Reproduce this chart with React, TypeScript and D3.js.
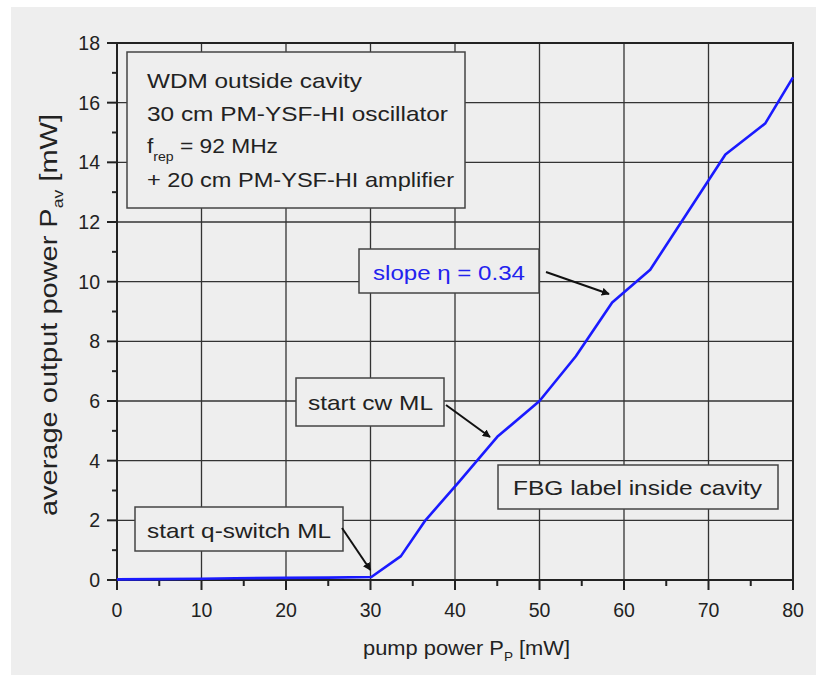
import React from "react";
import * as d3 from "d3";

const pumpPower = [0, 5, 10, 14, 20, 25, 30.1, 33.6, 36.5, 40.5, 45, 50, 54.3, 58.6, 63.1, 72, 76.7, 80];
const outputPower = [0.02, 0.03, 0.04, 0.06, 0.07, 0.08, 0.1, 0.8, 2.0, 3.3, 4.8, 6.0, 7.5, 9.3, 10.4, 14.26, 15.3, 16.85];
const xTicks = [0, 10, 20, 30, 40, 50, 60, 70, 80];
const xMinor = [5, 15, 25, 35, 45, 55, 65, 75];
const yTicks = [0, 2, 4, 6, 8, 10, 12, 14, 16, 18];
const yMinor = [1, 3, 5, 7, 9, 11, 13, 15, 17];
const infoLines = ["WDM outside cavity", "30 cm PM-YSF-HI oscillator", "f_rep = 92 MHz", "+ 20 cm PM-YSF-HI amplifier"];

const W = 816, H = 675;
const L = 117, R = 793, T = 43, B = 580;
const FONT = "'Liberation Sans', Arial, sans-serif";
const BG = "#eeeeee";
const DARK = "#222";

export default function App() {
  const x = d3.scaleLinear().domain([0, 80]).range([L, R]);
  const y = d3.scaleLinear().domain([0, 18]).range([B, T]);
  const line = d3.line<number>().x((_, i) => x(pumpPower[i])).y((d) => y(d));
  const path = line(outputPower) || "";

  const box = (x0: number, y0: number, x1: number, y1: number) => (
    <rect x={x0} y={y0} width={x1 - x0} height={y1 - y0} fill={BG} stroke="#444" strokeWidth={1.5} />
  );
  const arrow = (x0: number, y0: number, x1: number, y1: number) => (
    <line x1={x0} y1={y0} x2={x1} y2={y1} stroke="#111" strokeWidth={2} markerEnd="url(#ah)" />
  );
  const lbl = (tx: number, ty: number, w: number, content: React.ReactNode, fill = "#222") => (
    <text x={tx} y={ty} fontSize={21} fill={fill} textLength={w} lengthAdjust="spacingAndGlyphs">{content}</text>
  );

  return (
    <svg width={W} height={H} style={{ position: "absolute", left: 0, top: 0 }} fontFamily={FONT}>
      <defs>
        <marker id="ah" viewBox="0 0 10 10" refX="9" refY="5" markerWidth="4" markerHeight="4" orient="auto">
          <path d="M0,0 L10,5 L0,10 z" fill="#111" />
        </marker>
      </defs>
      <rect x={0} y={0} width={W} height={H} fill="#fff" />
      <rect x={11} y={7} width={W - 11} height={H - 7} fill={BG} />

      {/* grid */}
      {xTicks.slice(1, -1).map((t) => (
        <line key={"gx" + t} x1={x(t)} x2={x(t)} y1={T} y2={B} stroke="#333" strokeWidth={1.3} />
      ))}
      {yTicks.slice(1, -1).map((t) => (
        <line key={"gy" + t} x1={L} x2={R} y1={y(t)} y2={y(t)} stroke="#333" strokeWidth={1.3} />
      ))}

      {/* axes frame */}
      <rect x={L} y={T} width={R - L} height={B - T} fill="none" stroke={DARK} strokeWidth={2} />

      {/* ticks */}
      {xTicks.map((t) => (
        <g key={"xt" + t}>
          <line x1={x(t)} x2={x(t)} y1={B} y2={B + 10} stroke={DARK} strokeWidth={2} />
          <text x={x(t)} y={617} textAnchor="middle" fontSize={19.5} fill="#222">{t}</text>
        </g>
      ))}
      {xMinor.map((t) => (
        <line key={"xm" + t} x1={x(t)} x2={x(t)} y1={B} y2={B + 6} stroke={DARK} strokeWidth={2} />
      ))}
      {yTicks.map((t) => (
        <g key={"yt" + t}>
          <line x1={L - 10} x2={L} y1={y(t)} y2={y(t)} stroke={DARK} strokeWidth={2} />
          <text x={100} y={y(t) + 7} textAnchor="end" fontSize={19.5} fill="#222">{t}</text>
        </g>
      ))}
      {yMinor.map((t) => (
        <line key={"ym" + t} x1={L - 5} x2={L} y1={y(t)} y2={y(t)} stroke={DARK} strokeWidth={2} />
      ))}

      {/* data line */}
      <path d={path} fill="none" stroke="#1a1aff" strokeWidth={2.6} strokeLinejoin="round" />

      {/* info box */}
      {box(127, 52, 465, 208)}
      {lbl(147, 88, 215, infoLines[0])}
      {lbl(147, 121, 301, infoLines[1])}
      <text x={147} y={153} fontSize={21} fill="#222" textLength={131} lengthAdjust="spacingAndGlyphs">
        f<tspan fontSize={13} dy={8}>rep</tspan><tspan dy={-8}> = 92 MHz</tspan>
      </text>
      {lbl(147, 187, 307, infoLines[3])}

      {/* annotations */}
      {box(135, 507, 343, 551)}
      {lbl(147, 538, 184, "start q-switch ML")}
      {arrow(342, 528, x(30.1) - 1, y(0.1) - 7)}

      {box(296, 378, 444, 426)}
      {lbl(308, 410, 125, "start cw ML")}
      {arrow(446, 405, 490, 437)}

      {box(359, 249, 539, 293)}
      {lbl(373, 280, 152, "slope η = 0.34", "#2222ee")}
      {arrow(546, 272, 609, 294)}

      {box(498, 465, 778, 509)}
      {lbl(513, 495, 249, "FBG label inside cavity")}

      {/* axis labels */}
      <text x={363} y={655} fontSize={21} fill="#222" textLength={207} lengthAdjust="spacingAndGlyphs">
        pump power P<tspan fontSize={13} dy={6}>P</tspan><tspan dy={-6}> [mW]</tspan>
      </text>
      <text transform="translate(57,516) rotate(-90)" fontSize={23} fill="#222" textLength={402} lengthAdjust="spacingAndGlyphs">
        average output power P<tspan fontSize={14} dy={6}>av</tspan><tspan dy={-6}> [mW]</tspan>
      </text>
    </svg>
  );
}
